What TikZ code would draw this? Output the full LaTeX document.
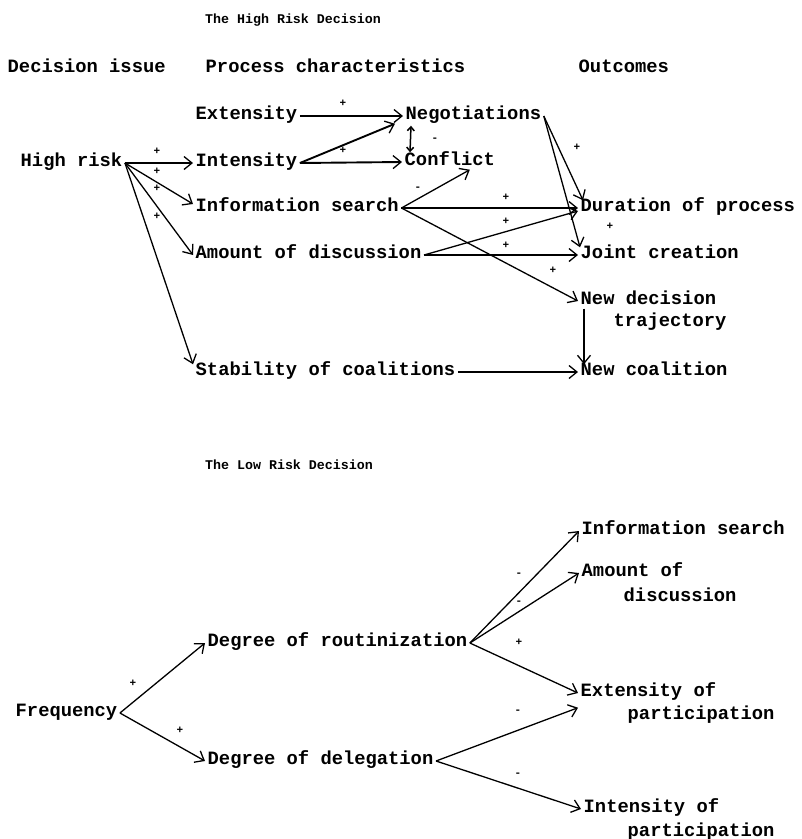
\documentclass[tikz,border=0pt]{standalone}
\usepackage{fontspec}
\setmainfont{Liberation Mono}
\usepackage{tikz}
\usetikzlibrary{arrows.meta}

\tikzset{
  lbl/.style={anchor=west, inner sep=2.5pt, yshift=-3pt, font=\fontsize{18.8}{22}\selectfont\bfseries,
    text height=1.6ex, text depth=.3ex},
  ttl/.style={anchor=west, inner sep=0pt, font=\fontsize{13.3}{15}\selectfont\bfseries},
  sgn/.style={inner sep=0pt, font=\fontsize{11}{11}\selectfont\bfseries},
  arr/.style={line width=1.3pt, -{Straight Barb[length=8pt,width=13pt,line width=1.3pt]}},
  arrb/.style={arr, line width=1.9pt},
}

\begin{document}
\begin{tikzpicture}[x=1pt,y=-1pt]
\useasboundingbox (0,0) rectangle (802,839);

% The high risk decision
\node[ttl] (t1) at (205,20) {The High Risk Decision};
\node[lbl] (h1) at (5,66) {Decision issue};
\node[lbl] (h2) at (203,66) {Process characteristics};
\node[lbl] (h3) at (576,66) {Outcomes};

\node[lbl] (hr) at (18,160) {High risk};
\node[lbl] (ext) at (193,113) {Extensity};
\node[lbl] (int) at (193,160) {Intensity};
\node[lbl] (inf) at (193,205) {Information search};
\node[lbl] (amt) at (193,252) {Amount of discussion};
\node[lbl] (stab) at (193,369) {Stability of coalitions};
\node[lbl] (neg) at (403,113) {Negotiations};
\node[lbl] (conf) at (402,159) {Conflict};
\node[lbl] (dur) at (578,205) {Duration of process};
\node[lbl] (joint) at (578,252) {Joint creation};
\node[lbl] (newd) at (578,298) {New decision};
\node[lbl] (newdb) at (611,320) {trajectory};
\node[lbl] (newc) at (578,369) {New coalition};

\draw[arrb] (hr.east) -- (int.west);
\draw[arr] (hr.east) -- ([yshift=4pt]inf.west);
\draw[arr] (hr.east) -- (amt.west);
\draw[arr] (hr.east) -- (stab.north west);
\draw[arrb] (ext.east) -- (neg.west);
\draw[arrb] (int.east) -- ([xshift=-8pt]neg.south west);
\draw[arrb] (int.east) -- (conf.west);
\draw[line width=1.5pt, {Straight Barb[length=4pt,width=7pt]}-{Straight Barb[length=4pt,width=7pt]}]
  ([xshift=8pt,yshift=-2pt]neg.south west) -- ([xshift=8pt,yshift=2pt]conf.north west);
\draw[arr] (inf.east) -- ([xshift=20pt]conf.south);
\draw[arrb] (inf.east) -- (dur.west);
\draw[arr] (inf.east) -- (newd.west);
\draw[arr] (amt.east) -- ([yshift=-3pt]dur.west);
\draw[arrb] (amt.east) -- (joint.west);
\draw[arr] (neg.east) -- ([xshift=5pt]dur.north west);
\draw[arr] (neg.east) -- ([xshift=2pt]joint.north west);
\draw[arr] ([xshift=6pt]newd.south west) -- ([xshift=6pt]newc.north west);
\draw[arrb] (stab.east) -- (newc.west);

% Marks
\node[sgn] (s1) at (157,151) {+};
\node[sgn] (s2) at (157,171) {+};
\node[sgn] (s3) at (157,188) {+};
\node[sgn] (s4) at (157,216) {+};
\node[sgn] (s5) at (343,103) {+};
\node[sgn] (s6) at (343,150) {+};
\node[sgn] (s7) at (435,140) {-};
\node[sgn] (s8) at (418,189) {-};
\node[sgn] (s9) at (506,197) {+};
\node[sgn] (s10) at (506,221) {+};
\node[sgn] (s11) at (506,245) {+};
\node[sgn] (s12) at (553,270) {+};
\node[sgn] (s13) at (577,147) {+};
\node[sgn] (s14) at (610,226) {+};

% The low risk decision
\node[ttl] (t2) at (205,465) {The Low Risk Decision};

\node[lbl] (freq) at (13,710) {Frequency};
\node[lbl] (rout) at (205,640) {Degree of routinization};
\node[lbl] (dele) at (205,758) {Degree of delegation};
\node[lbl] (linf) at (579,528) {Information search};
\node[lbl] (lamt) at (579,570) {Amount of};
\node[lbl] (lamtb) at (621,595) {discussion};
\node[lbl] (lext) at (578,690) {Extensity of};
\node[lbl] (lextb) at (625,713) {participation};
\node[lbl] (lint) at (581,806) {Intensity of};
\node[lbl] (lintb) at (625,830) {participation};

\draw[arr] (freq.east) -- (rout.west);
\draw[arr] (freq.east) -- (dele.west);
\draw[arr] (rout.east) -- (linf.west);
\draw[arr] (rout.east) -- (lamt.west);
\draw[arr] (rout.east) -- (lext.west);
\draw[arr] (dele.east) -- ([yshift=-7pt]lext.south west);
\draw[arr] (dele.east) -- (lint.west);

% Marks
\node[sgn] (s15) at (133,683) {+};
\node[sgn] (s16) at (180,730) {+};
\node[sgn] (s17) at (519,575) {-};
\node[sgn] (s18) at (519,603) {-};
\node[sgn] (s19) at (519,642) {+};
\node[sgn] (s20) at (518,712) {-};
\node[sgn] (s21) at (518,775) {-};
\end{tikzpicture}
\end{document}
